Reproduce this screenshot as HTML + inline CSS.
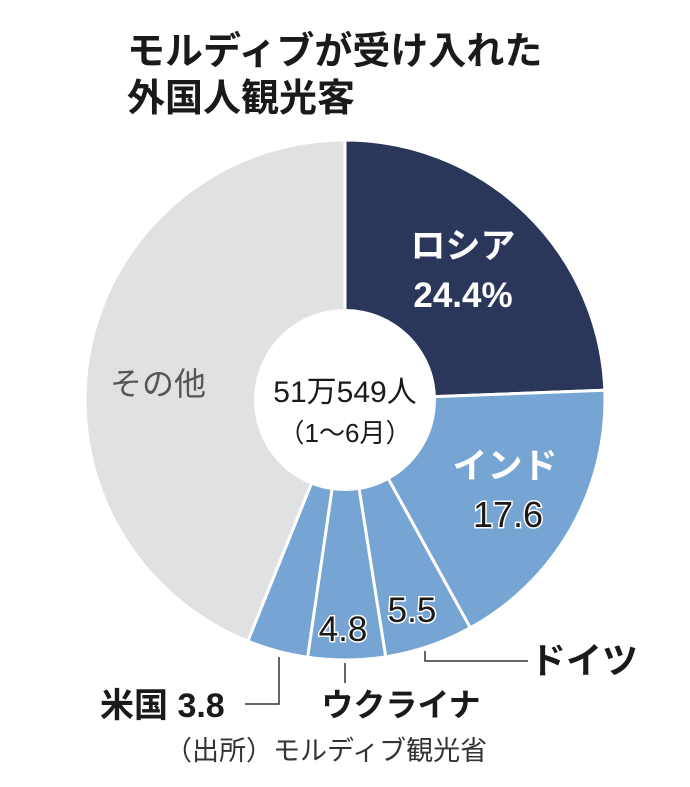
<!DOCTYPE html>
<html><head><meta charset="utf-8"><style>
body{margin:0;background:#fff;}
svg text{font-family:"Liberation Sans","Noto Sans CJK JP",sans-serif;}
</style></head><body>
<svg width="690" height="782" viewBox="0 0 690 782">
<text x="127" y="64" font-size="38" font-weight="bold" fill="#1a1a1a">モルディブが受け入れた</text>
<text x="127" y="111" font-size="38" font-weight="bold" fill="#1a1a1a">外国人観光客</text>
<g id="slices"></g>
<circle cx="345" cy="400" r="91" fill="#fff"/>
<text x="345" y="402" font-size="30" text-anchor="middle" fill="#1a1a1a">51万549人</text>
<text x="345" y="442" font-size="26" text-anchor="middle" fill="#1a1a1a">（1〜6月）</text>
<text x="463" y="258" font-size="35" font-weight="bold" text-anchor="middle" fill="#fff">ロシア</text>
<text x="463" y="307" font-size="35" font-weight="bold" text-anchor="middle" fill="#fff">24.4%</text>
<text x="505" y="478" font-size="35" font-weight="bold" text-anchor="middle" fill="#fff">インド</text>
<text x="508" y="527" font-size="36" text-anchor="middle" fill="#1a1a1a" stroke="#fff" stroke-width="3" paint-order="stroke">17.6</text>
<text x="412" y="622" font-size="35" text-anchor="middle" fill="#1a1a1a" stroke="#fff" stroke-width="3" paint-order="stroke">5.5</text>
<text x="343" y="641" font-size="35" text-anchor="middle" fill="#1a1a1a" stroke="#fff" stroke-width="3" paint-order="stroke">4.8</text>
<text x="110" y="395" font-size="32" fill="#555">その他</text>
<polyline points="425,651 425,661 528,661" fill="none" stroke="#333" stroke-width="1.5"/>
<text x="530" y="673" font-size="36" font-weight="bold" fill="#1a1a1a">ドイツ</text>
<line x1="345" y1="663" x2="345" y2="683" stroke="#333" stroke-width="1.5"/>
<text x="401" y="716" font-size="32" font-weight="bold" text-anchor="middle" fill="#1a1a1a">ウクライナ</text>
<polyline points="279,657 279,704 245,704" fill="none" stroke="#333" stroke-width="1.5"/>
<text x="100" y="717" font-size="34" font-weight="bold" fill="#1a1a1a">米国 3.8</text>
<text x="165" y="760" font-size="27" fill="#333">（出所）モルディブ観光省</text>
</svg>
<script>
const categories=["ロシア","インド","ドイツ","ウクライナ","米国","その他"];
const values=[24.4,17.6,5.5,4.8,3.8,43.9];
const colors=["#2b365b","#76a5d3","#76a5d3","#76a5d3","#76a5d3","#dfe1e3"];
const names=["slice-russia","slice-india","slice-germany","slice-ukraine","slice-us","slice-other"];
const cx=345,cy=400,R=260;
const total=values.reduce((a,b)=>a+b,0);
function pt(a){return [cx+R*Math.sin(a),cy-R*Math.cos(a)];}
const g=document.getElementById('slices');
let acc=0;
values.forEach((v,i)=>{
  const a0=acc/total*2*Math.PI; acc+=v; const a1=acc/total*2*Math.PI;
  const p0=pt(a0),p1=pt(a1);
  const large=(a1-a0)>Math.PI?1:0;
  const p=document.createElementNS('http://www.w3.org/2000/svg','path');
  p.setAttribute('d',`M${cx},${cy}L${p0[0]},${p0[1]}A${R},${R} 0 ${large} 1 ${p1[0]},${p1[1]}Z`);
  p.setAttribute('fill',colors[i]);
  p.setAttribute('stroke','#fff');
  p.setAttribute('stroke-width','3');
  
  
  g.appendChild(p);
});
</script>
</body></html>
